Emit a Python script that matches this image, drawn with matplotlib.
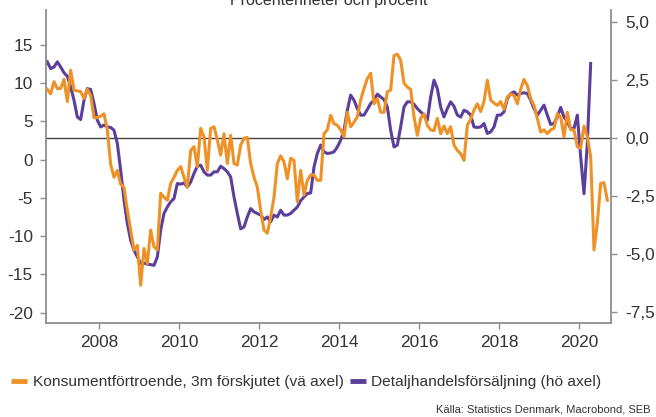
import matplotlib
matplotlib.use("Agg")
import matplotlib.pyplot as plt
import numpy as np
from matplotlib.ticker import FixedLocator, FuncFormatter
from matplotlib.lines import Line2D

plt.rcParams["font.family"] = ["Liberation Sans", "DejaVu Sans"]

# Monthly series, both starting September 2006
start_year, start_month = 2006, 9

# Consumer confidence, shifted 3 months (left axis, net balance)
konsument = [
    9.2, 8.6, 10.2, 9.3, 9.3, 10.5, 7.6, 11.7, 9.1, 9.0,
    8.9, 8.0, 9.2, 8.4, 5.5, 5.5, 5.7, 6.0, 3.9, -0.6,
    -2.3, -1.4, -3.2, -3.6, -6.6, -9.2, -11.8, -11.2, -16.4, -11.6,
    -13.6, -9.2, -11.4, -11.8, -4.4, -4.9, -5.3, -3.1, -2.3, -1.4,
    -0.9, -2.3, -3.6, 1.2, 1.7, -0.9, 4.1, 3.0, -1.4, 4.1,
    4.3, 2.6, 0.6, 3.4, -0.5, 3.2, -0.5, -0.7, 1.9, 2.8,
    2.9, -0.5, -2.3, -3.6, -6.6, -9.2, -9.6, -7.5, -4.9, -0.5,
    0.5, -0.3, -2.5, 0.2, -0.1, -5.5, -1.4, -4.6, -2.7, -2.0,
    -2.0, -2.7, -2.7, 3.4, 3.9, 5.8, 4.7, 4.5, 3.9, 3.0,
    6.2, 4.3, 4.9, 5.6, 7.8, 9.3, 10.6, 11.3, 7.3, 8.0,
    6.2, 6.2, 8.9, 9.1, 13.6, 13.8, 13.0, 10.0, 9.5, 9.2,
    5.6, 3.2, 5.4, 6.0, 4.5, 3.9, 3.8, 5.4, 3.4, 4.4,
    3.4, 4.3, 1.9, 1.2, 0.8, -0.1, 4.5, 5.3, 6.5, 7.3,
    6.3, 7.6, 10.4, 7.8, 7.4, 7.1, 7.6, 6.6, 8.2, 8.6,
    8.4, 7.3, 9.2, 10.5, 9.7, 8.0, 7.1, 5.4, 3.6, 3.9,
    3.4, 3.9, 4.1, 6.0, 5.6, 3.0, 6.2, 3.9, 3.9, 1.7,
    1.5, 4.4, 3.0, 0.4, -11.8, -8.3, -3.1, -3.0, -5.3,
]

# Retail sales (right axis, percent)
detaljhandel = [
    3.27, 2.98, 3.05, 3.27, 3.05, 2.80, 2.65, 2.19, 1.62, 0.90,
    0.79, 1.62, 2.12, 2.08, 1.48, 0.76, 0.47, 0.55, 0.47, 0.45,
    0.33, -0.24, -1.39, -2.68, -3.68, -4.40, -4.83, -5.12, -5.40, -5.38,
    -5.43, -5.45, -5.48, -5.12, -3.97, -3.25, -2.97, -2.75, -2.61, -1.96,
    -1.99, -1.94, -2.11, -1.90, -1.53, -1.22, -1.17, -1.46, -1.60, -1.60,
    -1.46, -1.46, -1.22, -1.32, -1.46, -1.68, -2.54, -3.25, -3.91, -3.83,
    -3.40, -3.04, -3.18, -3.25, -3.32, -3.51, -3.40, -3.61, -3.32, -3.40,
    -3.11, -3.32, -3.32, -3.25, -3.11, -2.97, -2.70, -2.54, -2.39, -2.37,
    -1.25, -0.67, -0.31, -0.60, -0.67, -0.65, -0.60, -0.39, -0.10, 0.33,
    1.19, 1.84, 1.62, 1.26, 0.98, 0.98, 1.22, 1.48, 1.62, 1.88,
    1.76, 1.65, 1.33, 0.33, -0.39, -0.31, 0.47, 1.33, 1.55, 1.55,
    1.45, 1.26, 1.12, 0.98, 0.76, 1.76, 2.48, 2.12, 1.33, 0.90,
    1.26, 1.55, 1.36, 0.98, 0.90, 1.19, 1.12, 0.98, 0.47, 0.45,
    0.47, 0.62, 0.19, 0.26, 0.47, 0.98, 0.98, 1.12, 1.69, 1.91,
    1.98, 1.84, 1.91, 1.94, 1.91, 1.62, 1.26, 0.98, 1.19, 1.41,
    0.98, 0.58, 0.62, 0.90, 1.31, 0.90, 0.69, 0.40, 0.40, 0.98,
    -0.82, -2.40, -0.24, 3.20,
]

year_ticks = [2008, 2010, 2012, 2014, 2016, 2018, 2020]
left_ticks = [15, 10, 5, 0, -5, -10, -15, -20]
right_ticks = [5.0, 2.5, 0.0, -2.5, -5.0, -7.5]

label_konsument = "Konsumentförtroende, 3m förskjutet (vä axel)"
label_detalj = "Detaljhandelsförsäljning (hö axel)"
title = "Procentenheter och procent"
source = "Källa: Statistics Denmark, Macrobond, SEB"

ORANGE = "#EE9127"
PURPLE = "#5C3F9B"
SPINE = "#8E8E8E"
TEXT = "#333333"


def month_positions(n):
    # decimal year at the middle of each month
    return start_year + (start_month - 1 + np.arange(n) + 0.5) / 12.0


x_k = month_positions(len(konsument))
x_d = month_positions(len(detaljhandel))

W, H = 656, 417
fig = plt.figure(figsize=(W / 100, H / 100), dpi=100)
ax = fig.add_axes([46 / W, 94 / H, 565 / W, 313 / H])
ax2 = ax.twinx()

# right-axis zero line and retail series
ax2.axhline(0, color="#444444", lw=1.0, zorder=1)
ax2.plot(x_d, detaljhandel, color=PURPLE, lw=2.2, solid_joinstyle="round", zorder=2)
# consumer confidence drawn above
ax.set_zorder(ax2.get_zorder() + 1)
ax.patch.set_visible(False)
ax.plot(x_k, konsument, color=ORANGE, lw=2.2, solid_joinstyle="round", zorder=3)

ax.set_xlim(2006.675, 2020.8)
ax.set_ylim(-21.35, 19.57)
ax2.set_ylim(-7.96, 5.50)

ax.xaxis.set_major_locator(FixedLocator(year_ticks))
ax.xaxis.set_major_formatter(FuncFormatter(lambda v, p: f"{v:.0f}"))
ax.yaxis.set_major_locator(FixedLocator(left_ticks))
ax.yaxis.set_major_formatter(FuncFormatter(lambda v, p: f"{v:.0f}"))
ax2.yaxis.set_major_locator(FixedLocator(right_ticks))
ax2.yaxis.set_major_formatter(FuncFormatter(lambda v, p: f"{v:.1f}".replace(".", ",")))

for a in (ax, ax2):
    for s in a.spines.values():
        s.set_visible(False)
ax.spines["left"].set_visible(True)
ax.spines["bottom"].set_visible(True)
ax2.spines["right"].set_visible(True)
for s in (ax.spines["left"], ax.spines["bottom"], ax2.spines["right"]):
    s.set_color(SPINE)
    s.set_linewidth(1.3)

ax.tick_params(axis="y", direction="out", length=4.5, width=1, color=SPINE,
               labelsize=12.4, labelcolor=TEXT, pad=5)
ax.tick_params(axis="x", direction="out", length=4.5, width=1, color=SPINE,
               labelsize=12.4, labelcolor=TEXT, pad=4)
ax2.tick_params(axis="y", direction="out", length=4.5, width=1, color=SPINE,
                labelsize=12.4, labelcolor=TEXT, pad=6)

fig.text(328.5 / W, 1 - 5 / H, title, ha="center", va="baseline",
         fontsize=11.5, color=TEXT)

handles = [Line2D([], [], color=ORANGE, lw=3.5, solid_capstyle="butt"),
           Line2D([], [], color=PURPLE, lw=3.5, solid_capstyle="butt")]
fig.legend(handles, [label_konsument, label_detalj], loc="center left",
           bbox_to_anchor=(11 / W, 1 - 382 / H), ncol=2, frameon=False,
           fontsize=11.15, handlelength=1.05, handletextpad=0.35,
           columnspacing=0.4, labelcolor=TEXT, borderaxespad=0, borderpad=0)

fig.text(650 / W, 1 - 410 / H, source, ha="right", va="center",
         fontsize=8, color=TEXT)

fig.savefig("out.png", dpi=100)
